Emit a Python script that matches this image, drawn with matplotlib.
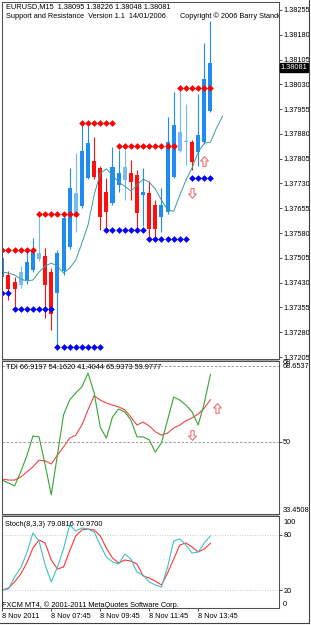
import matplotlib
matplotlib.use('Agg')
import matplotlib.pyplot as plt
from matplotlib.path import Path
from matplotlib.lines import Line2D
from matplotlib.patches import Rectangle
import numpy as np

W, H = 311, 625

# ---------------- data ----------------
opens = [1.37447, 1.37453, 1.37432, 1.37423, 1.37438, 1.37468, 1.37501, 1.37510, 1.37462, 1.37398,
         1.37465, 1.37538, 1.37628, 1.37662, 1.37746, 1.37798, 1.37777, 1.37704, 1.37671, 1.37725,
         1.37740, 1.37761, 1.37755, 1.37695, 1.37701, 1.37665, 1.37628, 1.37643, 1.37749, 1.37828,
         1.37855, 1.37855, 1.37825, 1.37855, 1.37949]
highs = [1.37513, 1.37465, 1.37447, 1.37480, 1.37528, 1.37565, 1.37628, 1.37535, 1.37474, 1.37528,
         1.37643, 1.37777, 1.37822, 1.37916, 1.37904, 1.37870, 1.37783, 1.37746, 1.37840, 1.37831,
         1.37831, 1.37801, 1.37771, 1.37777, 1.37737, 1.37680, 1.37716, 1.37931, 1.38007, 1.38016,
         1.37970, 1.37861, 1.38001, 1.38155, 1.38222]
lows = [1.37438, 1.37377, 1.37359, 1.37413, 1.37426, 1.37462, 1.37495, 1.37323, 1.37286, 1.37235,
        1.37453, 1.37532, 1.37583, 1.37656, 1.37743, 1.37743, 1.37589, 1.37592, 1.37665, 1.37704,
        1.37680, 1.37680, 1.37583, 1.37601, 1.37571, 1.37568, 1.37583, 1.37637, 1.37746, 1.37825,
        1.37786, 1.37771, 1.37783, 1.37849, 1.37946]
closes = [1.37504, 1.37410, 1.37410, 1.37462, 1.37492, 1.37525, 1.37519, 1.37423, 1.37335, 1.37519,
          1.37625, 1.37716, 1.37701, 1.37828, 1.37852, 1.37749, 1.37628, 1.37643, 1.37780, 1.37761,
          1.37780, 1.37734, 1.37641, 1.37704, 1.37592, 1.37592, 1.37665, 1.37855, 1.37907, 1.37886,
          1.37858, 1.37795, 1.37876, 1.38046, 1.38094]
light_bars = [3, 6, 12, 20, 29, 30]

ma_values = [1.37462, 1.37459, 1.37453, 1.37441, 1.37435, 1.37438, 1.37462, 1.37480, 1.37489, 1.37480,
             1.37459, 1.37474, 1.37498, 1.37550, 1.37604, 1.37695, 1.37761, 1.37774, 1.37755, 1.37734,
             1.37722, 1.37707, 1.37725, 1.37743, 1.37734, 1.37713, 1.37680, 1.37650, 1.37646, 1.37695,
             1.37740, 1.37777, 1.37825, 1.37852, 1.37855, 1.37898, 1.37934]

res_start = [0, 6, 13, 19, 29]
res_end = [5, 12, 18, 28, 34]
res_level = [1.37528, 1.37637, 1.37913, 1.37843, 1.38019]
sup_start = [0, 2, 9, 17, 24, 31]
sup_end = [1, 8, 16, 23, 30, 34]
sup_level = [1.37398, 1.37350, 1.37235, 1.37589, 1.37562, 1.37746]

price_arrow_up = (33, 1.37798)
price_arrow_down = (31, 1.37701)
tdi_arrow_up = (35, 58.0)
tdi_arrow_down = (31, 51.6)

tdi_green = [41.0, 40.3, 39.6, 42.9, 46.7, 51.4, 51.2, 44.6, 37.5, 46.9, 56.4, 59.9, 61.6, 63.0, 66.3,
             61.6, 53.5, 50.9, 55.9, 57.8, 57.1, 55.2, 51.2, 51.2, 50.5, 47.6, 49.8, 55.2, 60.6, 59.9,
             58.7, 57.1, 54.0, 59.2, 65.94]
tdi_red = [41.25, 41.0, 41.0, 41.7, 42.9, 44.1, 45.7, 45.5, 44.8, 46.9, 48.8, 50.9, 51.6, 54.0, 57.6,
           60.9, 59.9, 59.2, 58.7, 58.3, 57.6, 55.9, 54.0, 54.7, 53.8, 52.4, 51.6, 52.1, 53.3, 54.0,
           55.0, 55.7, 56.6, 58.0, 59.98]
tdi_levels = [68, 50]

stoch_main = [20.3, 21.4, 34.4, 44.1, 60.4, 82.1, 73.4, 47.4, 29.0, 45.2, 64.8, 90.8, 84.3, 87.5, 86.4,
              83.2, 69.1, 56.1, 50.7, 48.5, 59.3, 53.9, 39.8, 36.6, 29.0, 25.7, 23.5, 45.2, 73.4, 75.6,
              69.1, 60.4, 61.5, 71.3, 79.08]
stoch_signal = [20.3, 22.4, 29.0, 37.6, 49.6, 65.8, 74.5, 71.3, 52.8, 43.1, 45.2, 62.6, 78.9, 85.4, 86.4,
                85.4, 78.9, 65.8, 55.0, 49.6, 52.8, 51.7, 48.5, 35.5, 33.3, 30.0, 25.7, 38.7, 53.9, 69.1,
                71.3, 66.9, 61.5, 64.8, 70.97]
stoch_levels = [80, 20]

price_ticks = [1.38255, 1.38180, 1.38105, 1.38030, 1.37955, 1.37880, 1.37805, 1.37730,
               1.37655, 1.37580, 1.37505, 1.37430, 1.37355, 1.37280, 1.37205]
current_price = 1.38081
time_tick_bars = [0, 8, 16, 24, 32]
time_tick_labels = ['8 Nov 2011', '8 Nov 07:45', '8 Nov 09:45', '8 Nov 11:45', '8 Nov 13:45']

header_main = 'EURUSD,M15  1.38095 1.38226 1.38048 1.38081'
header_sr = 'Support and Resistance  Version 1.1  14/01/2006'
header_copy = 'Copyright \u00a9 2006 Barry Stander'
header_tdi = 'TDI 66.9197 54.1620 41.4044 65.9373 59.9777'
header_stoch = 'Stoch(8,3,3) 79.0816 70.9700'
footer = 'FXCM MT4, \u00a9 2001-2011 MetaQuotes Software Corp.'

# ---------------- style ----------------
plt.rcParams['font.family'] = ['Liberation Sans', 'DejaVu Sans']
plt.rcParams['font.size'] = 5.3

BLUE = '#1E8CF0'
LBLUE = '#78BAF6'
RED = '#FF1010'
SPINE = '#505050'

fig = plt.figure(figsize=(W / 100, H / 100), dpi=100)
fig.patch.set_facecolor('white')


def axrect(top, bottom, left=2, right=279):
    return [left / W, 1 - bottom / H, (right - left) / W, (bottom - top) / H]


def ftext(xp, yp, s, **kw):
    fig.text(xp / W, 1 - yp / H, s, va='center', ha='left', **kw)


ax1 = fig.add_axes(axrect(2, 359))
ax2 = fig.add_axes(axrect(361, 514), sharex=ax1)
ax3 = fig.add_axes(axrect(516, 608), sharex=ax1)

for ax in (ax1, ax2, ax3):
    ax.set_facecolor('white')
    for s in ax.spines.values():
        s.set_color(SPINE)
        s.set_linewidth(0.75)
    ax.yaxis.tick_right()
    ax.tick_params(axis='y', length=2.2, width=0.6, pad=0.8, color='#333333', labelsize=5.3)

# arrow markers
up_path = Path([(0, 1), (0.8, 0.1), (0.33, 0.1), (0.33, -1), (-0.33, -1), (-0.33, 0.1), (-0.8, 0.1), (0, 1)],
               [Path.MOVETO] + [Path.LINETO] * 6 + [Path.CLOSEPOLY])
down_path = Path([(0, -1), (0.8, -0.1), (0.33, -0.1), (0.33, 1), (-0.33, 1), (-0.33, -0.1), (-0.8, -0.1), (0, -1)],
                 [Path.MOVETO] + [Path.LINETO] * 6 + [Path.CLOSEPOLY])
ARROW = '#F07070'

# ---------------- main price panel ----------------
n = len(opens)
x = np.arange(n)
o = np.array(opens)
c = np.array(closes)
colors = []
for i in range(n):
    if c[i] >= o[i]:
        col = LBLUE if i in light_bars else BLUE
    else:
        col = RED
    colors.append(col)
ax1.vlines(x, lows, highs, colors=colors, lw=0.8)
ax1.bar(x, np.maximum(np.abs(c - o), 0.00003), bottom=np.minimum(o, c), width=0.66,
        color=colors, linewidth=0)

ax1.plot(np.arange(len(ma_values)), ma_values, color='#3A9EA0', lw=0.7)

for s, e, lvl in zip(res_start, res_end, res_level):
    xs = np.arange(s, e + 1)
    ax1.plot(xs, [lvl] * len(xs), ls='none', marker='D', ms=3.4, color='#FF0000', mew=0)
for s, e, lvl in zip(sup_start, sup_end, sup_level):
    xs = np.arange(s, e + 1)
    ax1.plot(xs, [lvl] * len(xs), ls='none', marker='D', ms=3.4, color='#0000FF', mew=0)

ax1.plot([price_arrow_up[0]], [price_arrow_up[1]], marker=up_path, ms=7, mfc='white', mec=ARROW, mew=0.8, ls='none')
ax1.plot([price_arrow_down[0]], [price_arrow_down[1]], marker=down_path, ms=7, mfc='white', mec=ARROW, mew=0.8, ls='none')

ax1.set_ylim(1.37199, 1.38279)
ax1.set_yticks(price_ticks)
ax1.set_yticklabels(['%.5f' % v for v in price_ticks])
ax1.annotate('%.5f' % current_price, xy=(1.0, current_price), xycoords=ax1.get_yaxis_transform(),
             xytext=(1.3, 0), textcoords='offset points', va='center', ha='left', color='white',
             fontsize=5.3, annotation_clip=False,
             bbox=dict(boxstyle='square,pad=0.12', fc='black', ec='black'))

ax1.text((180 - 2) / 277, 1 - (16 - 2) / 357, header_copy, transform=ax1.transAxes,
         va='center', ha='left', clip_on=True)

# ---------------- TDI panel ----------------
xt = np.arange(len(tdi_green))
for lvl in tdi_levels:
    ax2.axhline(lvl, color='#8A8A8A', lw=0.6, ls=(0, (3, 2)))
ax2.plot(xt, tdi_red, color='#F04545', lw=0.8)
ax2.plot(xt, tdi_green, color='#36A336', lw=0.8)
ax2.plot([tdi_arrow_up[0]], [tdi_arrow_up[1]], marker=up_path, ms=7, mfc='white', mec=ARROW, mew=0.8, ls='none')
ax2.plot([tdi_arrow_down[0]], [tdi_arrow_down[1]], marker=down_path, ms=7, mfc='white', mec=ARROW, mew=0.8, ls='none')
ax2.set_ylim(32.98, 69.13)
ax2.set_yticks([50])
ax2.set_yticklabels(['50'])

# ---------------- Stochastic panel ----------------
xs_ = np.arange(len(stoch_main))
for lvl in stoch_levels:
    ax3.axhline(lvl, color='#B8B8B8', lw=0.6, ls=(0, (1, 2)))
ax3.plot(xs_, stoch_signal, color='#FF3535', lw=0.8)
ax3.plot(xs_, stoch_main, color='#3CC2C8', lw=0.8)
ax3.set_ylim(0.8, 100.5)
ax3.set_yticks(stoch_levels)
ax3.set_yticklabels([str(v) for v in stoch_levels])

ax1.set_xlim(-0.05, 45.2)
ax3.set_xticks(time_tick_bars)
ax3.set_xticklabels(time_tick_labels, ha='left')
ax3.tick_params(axis='x', length=2.5, width=0.6, pad=1.2, color='#333333', labelsize=5.3)
for ax in (ax1, ax2):
    ax.tick_params(axis='x', bottom=False, labelbottom=False)

# ---------------- extra texts ----------------
ftext(6, 7, header_main)
ftext(6, 16, header_sr)
ftext(6.5, 367, header_tdi)
ftext(5, 524, header_stoch)
ftext(2.5, 605.5, footer)
ftext(283, 362.5, '68')
ftext(283, 366.5, '68.6537')
ftext(283, 510, '33.4508')
ftext(283, 522, '100')
ftext(283, 604, '0')

# separators and outer frame
for top in (359.5, 514.5):
    fig.add_artist(Rectangle((2 / W, 1 - (top + 1.5) / H), 277 / W, 1.5 / H,
                             transform=fig.transFigure, color='#A8A8A8', lw=0))
fig.add_artist(Line2D([308.5 / W, 308.5 / W], [1, 1 - 622.5 / H], transform=fig.transFigure,
                      color='#404040', lw=0.8))
fig.add_artist(Line2D([0, 308.5 / W], [1 - 622.5 / H, 1 - 622.5 / H], transform=fig.transFigure,
                      color='#404040', lw=0.8))

fig.savefig('out.png', dpi=100)
